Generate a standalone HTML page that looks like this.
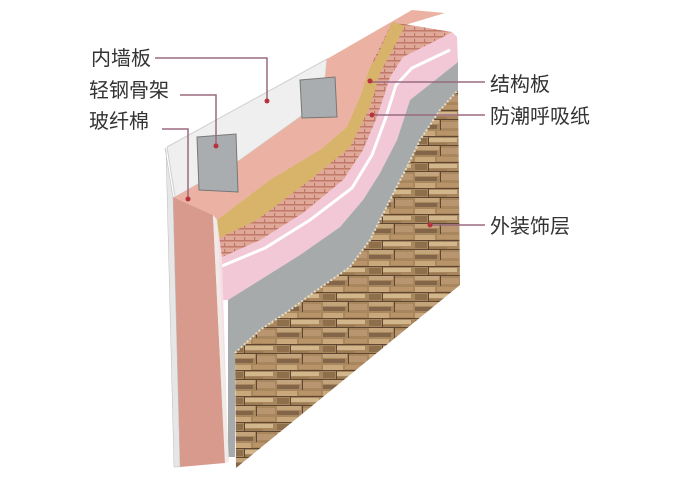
<!DOCTYPE html>
<html><head><meta charset="utf-8"><style>
html,body{margin:0;padding:0;background:#fff;}
svg{display:block}
text{font-family:"Liberation Sans","Noto Sans CJK SC",sans-serif;font-size:20px;fill:#333;}
</style></head><body>
<svg width="676" height="488" viewBox="0 0 676 488" xmlns="http://www.w3.org/2000/svg">
<defs>
<pattern id="stone" width="46" height="26" patternUnits="userSpaceOnUse">
<rect width="46" height="26" fill="#a8875e"/>
<rect x="1" y="1" width="20" height="5" fill="#c9a87c"/>
<rect x="23" y="1" width="22" height="4" fill="#b89468"/>
<rect x="1" y="8" width="12" height="6" fill="#8e6f4c"/>
<rect x="15" y="8" width="28" height="4" fill="#d2b68c"/>
<rect x="15" y="13" width="18" height="3" fill="#9c7a52"/>
<rect x="1" y="16" width="24" height="4" fill="#c4a47a"/>
<rect x="27" y="18" width="18" height="6" fill="#b99670"/>
<rect x="1" y="21" width="22" height="4" fill="#83664a"/>
<rect x="0" y="6" width="46" height="1" fill="#5e4632"/>
<rect x="0" y="15" width="46" height="1" fill="#5e4632"/>
<rect x="14" y="7" width="1" height="8" fill="#5e4632"/>
<rect x="26" y="16" width="1" height="10" fill="#5e4632"/>
</pattern>
<pattern id="brick" width="10" height="6" patternUnits="userSpaceOnUse">
<rect width="10" height="6" fill="#e0a898"/>
<rect x="0" y="0" width="10" height="1.5" fill="#c07868"/>
<rect x="4" y="3" width="1.2" height="3" fill="#c07868"/>
</pattern>
</defs>

<!-- white board inner face -->
<polygon points="167,147 327,59 323,100 300,117 240,160 175,197" fill="#efefef" stroke="#cfcfcf" stroke-width="1"/>
<!-- pink tops -->
<polygon points="175,197 240,160 300,117 323,100 327,59 412,10 445,13 395,28 377,57 370,67 360,97 347,127 320,150 270,180 217,220 213,215 173,197" fill="#ebb2a3"/>
<!-- studs -->
<polygon points="197,137 236,134 238,192 199,190" fill="#a9adaf" stroke="#777" stroke-width="1"/>
<polygon points="300,80 335,77 337,117 302,118" fill="#a9adaf" stroke="#777" stroke-width="1"/>
<!-- pink paper (base, full) -->
<polygon points="219,238 257,220 310,180 350,147 370,107 380,73 387,60 405,26 452,32 457,37 458,62 410,100 397,140 380,173 363,200 340,227 300,255 260,280 228,300 222,300" fill="#f2c8d6"/>
<!-- brick layer -->
<polygon points="217,220 270,180 320,150 347,127 360,97 370,67 392,22 452,32 443,37 403,57 390,77 377,117 363,150 343,180 303,213 260,240 220,258" fill="url(#brick)"/>
<!-- yellow strip -->
<polygon points="217,220 270,180 320,150 347,127 360,97 370,67 377,57 392,22 405,26 387,60 380,73 370,107 350,147 310,180 257,220 219,238" fill="#d8b46a"/>
<polyline points="222,266 265,248 310,220 352,188 372,155 385,120 396,85 412,68 450,50" fill="none" stroke="#fff" stroke-width="3"/>
<!-- gray board -->
<polygon points="228,300 260,280 300,255 340,227 363,200 380,173 397,140 410,100 458,62 458,90 440,110 420,140 407,167 390,200 370,240 350,267 317,290 290,310 260,330 235,353 235,457 228,457" fill="#a7aaab"/>
<!-- pink paper front strip -->
<polygon points="217,220 222,258 228,457 222,462" fill="#f6dde6"/>
<!-- stone -->
<polygon points="235,353 260,330 290,310 317,290 350,267 370,240 390,200 407,167 420,140 440,110 458,90 460,285 236,468" fill="url(#stone)"/>
<polyline points="235,353 260,330 290,310 317,290 350,267 370,240 390,200 407,167 420,140 440,110 458,90" fill="none" stroke="#e8dcc4" stroke-width="2" stroke-dasharray="2 2"/>
<!-- pink front face of insulation -->
<polygon points="173,197 213,215 225,463 180,467" fill="#d99a8e"/>
<polygon points="213,215 217,220 229,462 225,463" fill="#f1ebe8"/>
<!-- white board front edge -->
<polygon points="165,148 173,197 180,467 174,467 166,150" fill="#e6e6e6" stroke="#bbb" stroke-width="0.5"/>

<!-- leader lines -->
<g stroke="#9a6a80" stroke-width="1.5" fill="none">
<polyline points="155,58 267,58 267,101"/>
<polyline points="180,95 216,95 216,146"/>
<polyline points="162,129 188,129 188,199"/>
<polyline points="485,82 370,82"/>
<polyline points="485,115 372,115"/>
<polyline points="485,225 432,225"/>
</g>
<g fill="#b8323c">
<circle cx="267" cy="101" r="2.5"/><circle cx="216" cy="146" r="2.5"/><circle cx="188" cy="199" r="2.5"/>
<circle cx="370" cy="81" r="2.5"/><circle cx="372" cy="115" r="2.5"/><circle cx="430" cy="225" r="2.5"/>
</g>
<text x="91" y="65">内墙板</text>
<text x="89" y="97">轻钢骨架</text>
<text x="89" y="128">玻纤棉</text>
<text x="490" y="91">结构板</text>
<text x="490" y="123">防潮呼吸纸</text>
<text x="490" y="233">外装饰层</text>
</svg>
</body></html>
